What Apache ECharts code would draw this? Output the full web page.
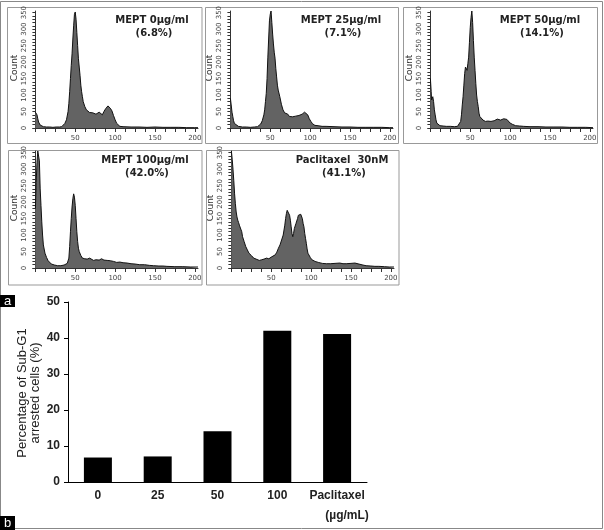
<!DOCTYPE html>
<html><head><meta charset="utf-8">
<script src="https://cdn.jsdelivr.net/npm/echarts@6/dist/echarts.min.js"></script>
<style>html,body{margin:0;padding:0;background:#fff}#c{width:604px;height:530px}</style>
</head><body><div id="c"></div>
<script>
// ---- Histogram data: [DNA content channel, count] ----
const h0 = [[0,48],[1,52],[2,40],[3,28],[4,18],[5,12],[6,9],[8,6],[10,4],[14,3],[18,3],[22,2],[26,3],[30,3],[33,4],[35,7],[37,14],[39,25],[41,50],[42,75],[43,110],[44,150],[45,190],[46,225],[47,270],[48,310],[49,345],[50,352],[51,330],[52,290],[53,250],[54,210],[55,185],[56,160],[57,130],[58,110],[59,95],[60,80],[62,65],[64,55],[66,50],[68,47],[70,44],[72,46],[74,40],[76,42],[78,38],[80,48],[82,44],[84,40],[86,50],[88,58],[90,62],[91,67],[92,64],[94,60],[96,52],[98,38],[100,25],[102,14],[104,8],[106,5],[110,4],[120,3],[130,3],[140,2],[150,3],[160,2],[170,2],[180,2],[190,1],[200,1],[204,1]];
const h25 = [[0,90],[1,70],[2,48],[3,35],[4,22],[5,14],[7,8],[10,5],[15,3],[20,3],[25,2],[30,3],[34,4],[36,6],[38,12],[40,22],[42,40],[43,55],[44,80],[45,105],[46,150],[47,215],[48,270],[49,325],[50,345],[51,355],[52,320],[53,285],[54,255],[55,230],[56,212],[57,180],[58,155],[59,130],[60,115],[62,95],[64,72],[66,55],[68,46],[70,40],[72,42],[74,35],[76,38],[78,34],[80,38],[82,36],[84,35],[86,38],[88,40],[90,42],[92,46],[93,48],[95,45],[97,40],[99,28],[101,20],[103,13],[106,8],[110,7],[115,5],[120,5],[130,4],[140,3],[150,3],[160,2],[170,2],[180,2],[190,2],[200,1],[204,1]];
const h50 = [[0,150],[1,110],[1.5,85],[2,88],[3,95],[4,80],[5,55],[6,40],[7,25],[8,15],[10,9],[12,7],[16,6],[20,5],[25,5],[30,4],[34,5],[36,8],[38,20],[39,40],[40,70],[41,95],[42,130],[43,165],[44,185],[45,180],[46,175],[47,195],[48,215],[49,260],[50,305],[51,335],[52,355],[53,320],[54,265],[55,215],[56,175],[57,135],[58,100],[59,80],[60,65],[61,45],[62,35],[63,30],[66,24],[69,20],[72,21],[76,20],[80,22],[84,27],[86,25],[88,24],[90,25],[92,28],[94,24],[96,26],[98,20],[100,15],[103,11],[107,7],[112,6],[117,5],[125,4],[135,4],[145,3],[155,3],[165,3],[175,2],[185,2],[195,2],[204,1]];
const h100 = [[0,180],[1,260],[2,320],[3,355],[4,350],[5,325],[6,240],[7,190],[8,140],[9,100],[10,70],[12,45],[14,32],[16,22],[18,16],[20,12],[24,9],[28,7],[32,7],[36,9],[38,10],[40,14],[42,30],[43,65],[44,110],[45,150],[46,185],[47,210],[48,225],[49,215],[50,190],[51,150],[52,110],[53,80],[54,60],[55,50],[57,38],[59,30],[62,28],[65,27],[68,30],[70,26],[73,23],[76,25],[80,24],[83,28],[86,24],[90,23],[94,22],[98,20],[102,17],[106,18],[110,16],[115,15],[120,13],[125,12],[131,10],[137,10],[143,8],[148,7],[155,6],[160,6],[165,5],[175,4],[185,4],[195,3],[204,3]];
const hPac = [[0,355],[1,330],[2,300],[3,265],[4,225],[5,195],[6,170],[7,155],[8,145],[9,138],[10,130],[11,128],[12,125],[13,110],[14,95],[16,80],[18,65],[20,55],[22,45],[25,38],[28,30],[31,27],[35,23],[38,25],[41,27],[44,30],[47,28],[50,33],[52,38],[55,40],[57,48],[59,60],[61,70],[63,85],[65,100],[67,130],[68,150],[69,165],[70,175],[71,180],[72,172],[73,160],[74,145],[75,125],[76,105],[77,95],[78,105],[79,120],[80,125],[81,135],[82,140],[83,150],[84,160],[85,165],[86,166],[87,163],[88,160],[89,150],[90,135],[91,125],[92,105],[93,90],[94,75],[95,58],[96,45],[97,40],[99,32],[101,25],[105,20],[109,17],[114,14],[119,13],[124,13],[130,14],[136,15],[140,13],[144,13],[150,14],[155,15],[157,15],[160,12],[165,9],[169,7],[175,6],[180,5],[185,5],[192,4],[198,3],[204,3]];

const histTitles = ['MEPT 0µg/ml','MEPT 25µg/ml','MEPT 50µg/ml','MEPT 100µg/ml','Paclitaxel  30nM'];
const histPercents = ['(6.8%)','(7.1%)','(14.1%)','(42.0%)','(41.1%)'];
const histXTickLabels = [50,100,150,200];
const histYTickLabels = [0,50,100,150,200,250,300,350];

// ---- Bar chart data ----
const barCategories = ['0','25','50','100','Paclitaxel'];
const barValues = [6.8, 7.1, 14.1, 42.0, 41.1];

// ---- layout ----
const histSeriesData = [h0,h25,h50,h100,hPac];
const panelPos = [
  {left:33, top:11, tx:152, ty:20},
  {left:228, top:11, tx:341, ty:20},
  {left:428, top:11, tx:540, ty:20},
  {left:33, top:151, tx:145, ty:160},
  {left:229, top:151, tx:342, ty:160}
];
const xMinorTicks = [];
for (let v = 0; v <= 200; v += 12.5) xMinorTicks.push(v);
const yMinorTicks = [];
for (let v = 0; v <= 350; v += 10) yMinorTicks.push(v);

const grids = [], xAxes = [], yAxes = [], series = [], graphics = [];
const axisCol = '#333';
panelPos.forEach((p, i) => {
  grids.push({left:p.left, top:p.top, width:165, height:117});
  xAxes.push({type:'value', gridIndex:i, min:-3, max:204,
    axisLine:{show:true, lineStyle:{color:axisCol, width:1}},
    axisTick:{show:true, customValues:xMinorTicks, length:4, lineStyle:{color:axisCol}},
    axisLabel:{customValues:histXTickLabels, fontSize:7, color:'#444', margin:7, fontFamily:'DejaVu Sans'},
    splitLine:{show:false}});
  yAxes.push({type:'value', gridIndex:i, min:0, max:355,
    axisLine:{show:true, lineStyle:{color:axisCol, width:1}},
    axisTick:{show:true, customValues:yMinorTicks, length:3, lineStyle:{color:axisCol}},
    axisLabel:{customValues:histYTickLabels, fontSize:7, color:'#444', rotate:90, margin:5, fontFamily:'DejaVu Sans'},
    splitLine:{show:false}});
  series.push({type:'line', xAxisIndex:i, yAxisIndex:i, data:histSeriesData[i], symbol:'none',
    lineStyle:{color:'#111', width:1}, areaStyle:{color:'#636363', opacity:1}, silent:true, clip:true});
  graphics.push({type:'text', x:p.tx, y:p.ty, style:{text:histTitles[i], align:'center', verticalAlign:'middle', font:'bold 10px "DejaVu Sans"', fill:'#222'}});
  graphics.push({type:'text', x:p.tx+2, y:p.ty+13, style:{text:histPercents[i], align:'center', verticalAlign:'middle', font:'bold 10px "DejaVu Sans"', fill:'#222'}});
  graphics.push({type:'text', x:p.left-18, y:p.top+57, rotation:Math.PI/2, style:{text:'Count', align:'center', verticalAlign:'middle', font:'9px "DejaVu Sans"', fill:'#333'}});
});

// bar chart
grids.push({left:68, top:302, width:299, height:180});
xAxes.push({type:'category', gridIndex:5, data:barCategories,
  axisLine:{show:true, lineStyle:{color:'#000', width:1}},
  axisTick:{show:false},
  axisLabel:{interval:0, fontSize:12, fontWeight:'bold', color:'#222', margin:8, fontFamily:'Liberation Sans'}});
yAxes.push({type:'value', gridIndex:5, min:0, max:50, interval:10,
  axisLine:{show:true, lineStyle:{color:'#000', width:1}},
  axisTick:{show:true, length:4, lineStyle:{color:'#000'}},
  axisLabel:{fontSize:12, fontWeight:'bold', color:'#222', margin:8, fontFamily:'Liberation Sans'},
  splitLine:{show:false}});
series.push({type:'bar', xAxisIndex:5, yAxisIndex:5, data:barValues, barWidth:28, itemStyle:{color:'#000'}});

// frames and labels
const frame = (x,y,w,h,c) => ({type:'rect', shape:{x,y,width:w,height:h}, style:{fill:'none', stroke:c, lineWidth:1}, silent:true});
graphics.push(frame(0.5,1.5,602,527,'#888'));
graphics.push(frame(7.5,7.5,194.5,136,'#999'));
graphics.push(frame(205.5,7.5,193,136,'#999'));
graphics.push(frame(403.5,7.5,194,136,'#999'));
graphics.push(frame(8.5,150.5,193.5,134.5,'#999'));
graphics.push(frame(206.5,150.5,192.5,134.5,'#999'));
graphics.push({type:'rect', shape:{x:0, y:295, width:15, height:12}, style:{fill:'#000'}});
graphics.push({type:'text', x:7.5, y:301, style:{text:'a', align:'center', verticalAlign:'middle', font:'13px "Liberation Sans"', fill:'#fff'}});
graphics.push({type:'rect', shape:{x:0, y:516, width:15, height:14}, style:{fill:'#000'}});
graphics.push({type:'text', x:7.5, y:523, style:{text:'b', align:'center', verticalAlign:'middle', font:'13px "Liberation Sans"', fill:'#fff'}});
graphics.push({type:'text', x:347, y:516, style:{text:'(µg/mL)', align:'center', verticalAlign:'middle', font:'bold 12px "Liberation Sans"', fill:'#222'}});
graphics.push({type:'text', x:29, y:393, rotation:Math.PI/2, style:{text:'Percentage of Sub-G1\narrested cells (%)', align:'center', verticalAlign:'middle', font:'13px "Liberation Sans"', lineHeight:13, fill:'#222'}});

const chart = echarts.init(document.getElementById('c'), null, {renderer:'canvas'});
chart.setOption({animation:false, backgroundColor:'#fff', grid:grids, xAxis:xAxes, yAxis:yAxes, series:series, graphic:graphics});
</script></body></html>
